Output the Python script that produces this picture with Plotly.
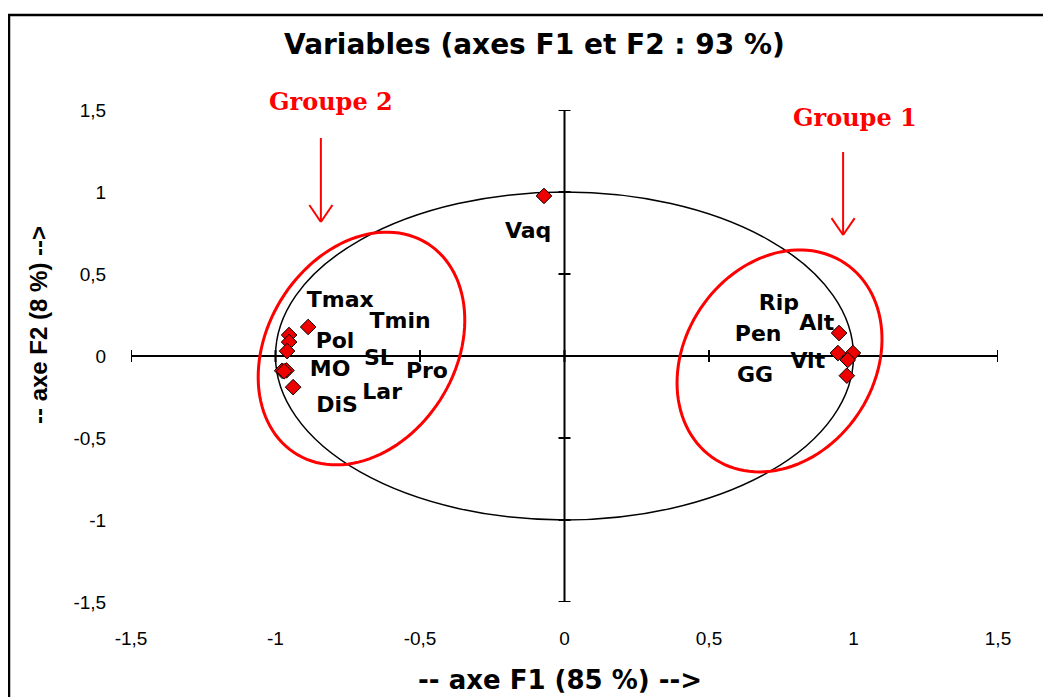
import numpy as np
import plotly.graph_objects as go

# ---------------- data ----------------
var_names = ["Tmax", "Tmin", "Pol", "SL", "MO", "Pro", "Lar", "DiS",
             "Vaq", "Rip", "Alt", "Pen", "Vit", "GG"]
f1 = [-0.953, -0.887, -0.953, -0.960, -0.977, -0.962, -0.970, -0.939,
      -0.071, 0.998, 0.950, 0.946, 0.980, 0.977]
f2 = [0.128, 0.177, 0.085, 0.030, -0.090, -0.088, -0.093, -0.190,
      0.976, 0.018, 0.140, 0.018, -0.024, -0.120]
# label positions (placed away from the markers, as in the original)
label_x = [-0.776, -0.569, -0.794, -0.642, -0.811, -0.476, -0.631, -0.787,
           -0.126, 0.742, 0.873, 0.670, 0.842, 0.659]
label_y = [0.335, 0.207, 0.085, -0.024, -0.090, -0.098, -0.226, -0.310,
           0.756, 0.317, 0.195, 0.128, -0.037, -0.128]

tick_vals = [-1.5, -1.0, -0.5, 0.0, 0.5, 1.0, 1.5]
tick_text = ["-1,5", "-1", "-0,5", "0", "0,5", "1", "1,5"]

title_text = "Variables (axes F1 et F2 : 93 %)"
x_title = "-- axe F1 (85 %) -->"
y_title = "-- axe F2 (8 %) -->"

# ---------------- layout constants ----------------
OFF = 8                      # page body margin
W, H = 1051 - OFF, 697 - OFF
ML, MR, MT, MB = 131 - OFF, 53, 110 - OFF, 95
PW, PH = W - ML - MR, H - MT - MB
PX_X = PW / 3.0
PX_Y = PH / 3.0
RED = "#ff0000"


def px_to_paper(px, py):
    """Reference-image pixel -> paper coordinates."""
    px, py = px - OFF, py - OFF
    return (px - ML) / PW, (H - MB - py) / PH


def ellipse_path(cx, cy, a, b, alpha_deg, n=120):
    """Ellipse sized in pixels (center in data units), returned as an SVG path in data units."""
    al = np.radians(alpha_deg)
    t = np.linspace(0, 2 * np.pi, n)
    ux, uy = np.sin(al), np.cos(al)        # major axis direction (up-right)
    vx, vy = np.cos(al), -np.sin(al)
    dxp = a * np.cos(t) * ux + b * np.sin(t) * vx
    dyp = a * np.cos(t) * uy + b * np.sin(t) * vy
    xs = cx + dxp / PX_X
    ys = cy + dyp / PX_Y
    pts = [f"{x:.4f},{y:.4f}" for x, y in zip(xs, ys)]
    return "M " + " L ".join(pts) + " Z"


fig = go.Figure()

# markers
fig.add_trace(go.Scatter(
    x=f1, y=f2, mode="markers",
    marker=dict(symbol="diamond", size=12, color="#ee0000",
                line=dict(color="black", width=1)),
    hoverinfo="skip", cliponaxis=False))

# labels
fig.add_trace(go.Scatter(
    x=label_x, y=label_y, mode="text", text=var_names,
    textposition="middle center",
    textfont=dict(family="DejaVu Sans", size=22, color="black", weight="bold"),
    hoverinfo="skip", cliponaxis=False))

shapes = []
# unit circle
shapes.append(dict(type="circle", xref="x", yref="y", x0=-1, x1=1, y0=-1, y1=1,
                   line=dict(color="black", width=1.5), layer="below"))
# cross axes
shapes.append(dict(type="line", xref="x", yref="y", x0=-1.5, x1=1.5, y0=0, y1=0,
                   line=dict(color="black", width=2), layer="below"))
shapes.append(dict(type="line", xref="x", yref="y", x0=0, x1=0, y0=-1.5, y1=1.5,
                   line=dict(color="black", width=2), layer="below"))
for v in tick_vals:
    shapes.append(dict(type="line", xref="x", yref="y", x0=v, x1=v,
                       ysizemode="pixel", yanchor=0, y0=-6, y1=6,
                       line=dict(color="black", width=2), layer="below"))
    shapes.append(dict(type="line", xref="x", yref="y", y0=v, y1=v,
                       xsizemode="pixel", xanchor=0, x0=-6, x1=6,
                       line=dict(color="black", width=2), layer="below"))

# red group ellipses
shapes.append(dict(type="path", xref="x", yref="y",
                   path=ellipse_path(-0.7025, 0.0457, 124, 94, 32),
                   line=dict(color=RED, width=3)))
shapes.append(dict(type="path", xref="x", yref="y",
                   path=ellipse_path(0.744, -0.030, 117.6, 94.8, 34),
                   line=dict(color=RED, width=3)))

# red arrows (shaft + open head)
for ax_, ytop, ytip, yhead in [(-0.843, 1.329, 0.817, 0.921), (0.964, 1.244, 0.738, 0.841)]:
    shapes.append(dict(type="line", xref="x", yref="y", x0=ax_, x1=ax_, y0=ytop, y1=ytip,
                       line=dict(color=RED, width=2)))
    shapes.append(dict(type="line", xref="x", yref="y", x0=ax_ - 0.04, x1=ax_, y0=yhead, y1=ytip,
                       line=dict(color=RED, width=2)))
    shapes.append(dict(type="line", xref="x", yref="y", x0=ax_ + 0.04, x1=ax_, y0=yhead, y1=ytip,
                       line=dict(color=RED, width=2)))

# outer frame
fx0, fy1 = px_to_paper(9, 15)
fx1, fy0 = px_to_paper(1045, 730)
shapes.append(dict(type="rect", xref="paper", yref="paper", x0=fx0, x1=fx1, y0=fy0, y1=fy1,
                   line=dict(color="black", width=2.5), layer="below"))

annotations = []
tx, ty = px_to_paper(534, 44)
annotations.append(dict(xref="paper", yref="paper", x=tx, y=ty, text=title_text,
                        showarrow=False, xanchor="center", yanchor="middle",
                        font=dict(family="DejaVu Sans", size=28, color="black", weight="bold")))
xx, xy = px_to_paper(560, 680)
annotations.append(dict(xref="paper", yref="paper", x=xx, y=xy, text=x_title,
                        showarrow=False, xanchor="center", yanchor="middle",
                        font=dict(family="DejaVu Sans", size=26, color="black", weight="bold")))
yx, yy = px_to_paper(38, 325)
annotations.append(dict(xref="paper", yref="paper", x=yx, y=yy, text=y_title, textangle=-90,
                        showarrow=False, xanchor="center", yanchor="middle",
                        font=dict(family="Liberation Sans", size=24, color="black", weight="bold")))
g2x, g2y = px_to_paper(331, 101)
annotations.append(dict(xref="paper", yref="paper", x=g2x, y=g2y, text="Groupe 2",
                        showarrow=False, xanchor="center", yanchor="middle",
                        font=dict(family="DejaVu Serif", size=24, color=RED, weight="bold")))
g1x, g1y = px_to_paper(855, 117)
annotations.append(dict(xref="paper", yref="paper", x=g1x, y=g1y, text="Groupe 1",
                        showarrow=False, xanchor="center", yanchor="middle",
                        font=dict(family="DejaVu Serif", size=24, color=RED, weight="bold")))

fig.update_layout(
    width=W, height=H,
    margin=dict(l=ML, r=MR, t=MT, b=MB, pad=0, autoexpand=False),
    plot_bgcolor="white", paper_bgcolor="white",
    showlegend=False,
    shapes=shapes, annotations=annotations,
    xaxis=dict(range=[-1.5, 1.5], showgrid=False, zeroline=False, showline=False,
               tickvals=tick_vals, ticktext=tick_text, ticks="outside", ticklen=19,
               tickcolor="rgba(0,0,0,0)", automargin=False,
               tickfont=dict(family="Liberation Sans", size=19, color="black"),
               fixedrange=True),
    yaxis=dict(range=[-1.5, 1.5], showgrid=False, zeroline=False, showline=False,
               tickvals=tick_vals, ticktext=tick_text, ticks="outside", ticklen=20,
               tickcolor="rgba(0,0,0,0)", automargin=False,
               tickfont=dict(family="Liberation Sans", size=19, color="black"),
               fixedrange=True),
)

fig.write_html("out.html")
